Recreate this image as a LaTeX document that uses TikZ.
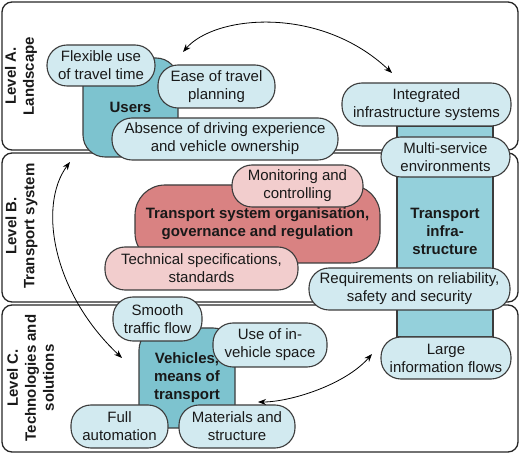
\documentclass[tikz,border=0pt]{standalone}
\usepackage{fontspec}
\setmainfont{Liberation Sans}
\usetikzlibrary{arrows.meta}
\definecolor{pillblue}{RGB}{210,234,240}
\definecolor{userteal}{RGB}{125,195,207}
\definecolor{infrateal}{RGB}{148,208,219}
\definecolor{regred}{RGB}{217,130,130}
\definecolor{regpink}{RGB}{242,205,205}
\definecolor{edgegray}{RGB}{60,60,60}

\begin{document}
\begin{tikzpicture}[x=1pt,y=-1pt]
  \tikzstyle{every node} = [font=\fontsize{15}{18}\selectfont, align=center, inner sep=2pt, text=black!90]
  \tikzstyle{panel} = [draw=black!85, line width=1.3pt, rounded corners=10pt]
  \tikzstyle{mainbox} = [draw=edgegray, line width=1.1pt, font=\bfseries\fontsize{15}{18}\selectfont]
  \tikzstyle{pill} = [draw=edgegray, line width=1.1pt, fill=pillblue, rounded corners=20pt]
  \tikzstyle{levellabel} = [rotate=90, font=\bfseries\fontsize{15}{18}\selectfont]
  \tikzstyle{link} = [line width=0.8pt, {Stealth[length=8pt,width=6pt]}-{Stealth[length=8pt,width=6pt]}]
  \useasboundingbox (0,0) rectangle (520,454);

  % levels
  \node (panelA) [panel, minimum width=516, minimum height=148] at (260,76) {};
  \node (panelB) [panel, minimum width=516, minimum height=149] at (260,227.5) {};
  \node (panelC) [panel, minimum width=516, minimum height=147] at (260,378.5) {};
  \node (levelA) [levellabel] at (21,76) {Level A.\\Landscape};
  \node (levelB) [levellabel] at (21.5,226) {Level B.\\Transport system};
  \node (levelC) [levellabel] at (30.5,378) {Level C.\\Technologies and\\solutions};

  % main elements
  \node (users) [mainbox, fill=userteal, rounded corners=22pt, minimum width=95, minimum height=99] at (130.5,107.5) {Users};
  \node (infra) [mainbox, fill=infrateal, minimum width=96, minimum height=211] at (445,231.5) {Transport\\infra-\\structure};
  \node (regul) [mainbox, fill=regred, rounded corners=30pt, minimum width=245, minimum height=78] at (257.5,224) {Transport system organisation,\\governance and regulation};
  \node (vehic) [mainbox, fill=userteal, rounded corners=22pt, minimum width=96, minimum height=100] at (187,378) {Vehicles,\\means of\\transport};

  % level A
  \node (flex) [pill, minimum width=108, minimum height=41] at (101,65.5) {Flexible use\\of travel time};
  \node (ease) [pill, minimum width=117, minimum height=43] at (216.5,86.5) {Ease of travel\\planning};
  \node (absence) [pill, minimum width=226, minimum height=42] at (225,139) {Absence of driving experience\\and vehicle ownership};
  \node (integ) [pill, minimum width=169, minimum height=43] at (426.5,104.5) {Integrated\\infrastructure systems};
  \node (multi) [pill, minimum width=129, minimum height=40] at (445.5,157) {Multi-service\\environments};

  % level B
  \node (monit) [pill, fill=regpink, minimum width=131, minimum height=42] at (297.5,186) {Monitoring and\\controlling};
  \node (techn) [pill, fill=regpink, minimum width=193, minimum height=43] at (201.5,268.5) {Technical specifications,\\standards};
  \node (requir) [pill, minimum width=201, minimum height=42] at (409.5,289) {Requirements on reliability,\\safety and security};

  % level C
  \node (large) [pill, minimum width=130, minimum height=42] at (446,358) {Large\\information flows};
  \node (smooth) [pill, minimum width=89, minimum height=44] at (157.5,319) {Smooth\\traffic flow};
  \node (usein) [pill, minimum width=114, minimum height=44] at (270,345) {Use of in-\\vehicle space};
  \node (fullaut) [pill, minimum width=97, minimum height=43] at (119.5,426.5) {Full\\automation};
  \node (mater) [pill, minimum width=116, minimum height=43] at (237,426.5) {Materials and\\structure};

  % arrows
  \coordinate (usersTip) at (183,52);
  \coordinate (integTip) at (392,73);
  \coordinate (absenceTip) at (70,162);
  \coordinate (vehicTip) at (122,358);
  \coordinate (materTip) at (258,402);
  \coordinate (largeTip) at (372,354);
  \draw[link] (usersTip) .. controls (215,15) and (320,5) .. (integTip);
  \draw[link] (absenceTip) .. controls (38,205) and (52,292) .. (vehicTip);
  \draw[link] (materTip) .. controls (290,402) and (345,385) .. (largeTip);
\end{tikzpicture}
\end{document}
